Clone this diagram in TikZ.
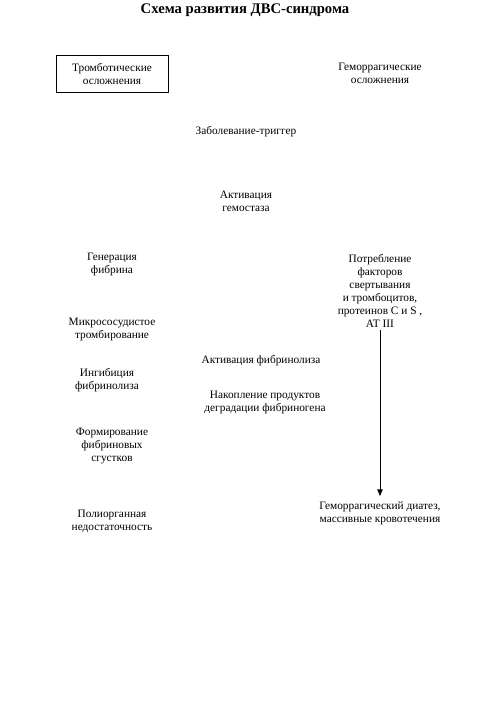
\documentclass[tikz,border=0pt]{standalone}
\usepackage{fontspec}
\setmainfont{Liberation Serif}
\usetikzlibrary{arrows.meta,calc}
\begin{document}
\begin{tikzpicture}[x=0.75pt,y=-0.75pt,
  lbl/.style={align=center,inner sep=0pt,font=\fontsize{8.5}{9.75}\selectfont},
  txt/.style={lbl,yshift=-1.1pt},
  boxed/.style={lbl,draw,line width=0.6pt,minimum width=84pt,minimum height=27.75pt},
  arr/.style={-{Triangle[length=5pt,width=4pt]},line width=0.6pt}]
\useasboundingbox (0,0) rectangle (488,715);
\node[font=\bfseries\fontsize{11}{13}\selectfont,inner sep=0pt] (title) at (245,10) {Схема развития ДВС-синдрома};
\node[boxed] (thromb) at (112,73.5) {Тромботические\\осложнения};
\node[txt] (hemorr) at (380,72) {Геморрагические\\осложнения};
\node[txt] (trigger) at (246,130) {Заболевание-триггер};
\node[txt] (activ) at (246,200) {Активация\\гемостаза};
\node[txt] (gener) at (112,263.5) {Генерация\\фибрина};
\node[txt] (consum) at (380,289.5) {Потребление\\факторов\\свертывания\\и тромбоцитов,\\протеинов C и S ,\\AT III};
\node[txt] (micro) at (112,328.5) {Микрососудистое\\тромбирование};
\node[txt] (inhib) at (107,379) {Ингибиция\\фибринолиза};
\node[txt] (fibrinol) at (261,359) {Активация фибринолиза};
\node[txt] (accum) at (265,401.5) {Накопление продуктов\\деградации фибриногена};
\node[txt] (clots) at (112,445) {Формирование\\фибриновых\\сгустков};
\node[txt] (organ) at (112,519.5) {Полиорганная\\недостаточность};
\node[txt] (diath) at (380,511.5) {Геморрагический диатез,\\массивные кровотечения};
\coordinate (cs) at ($(consum.south)+(0,2)$);
\coordinate (ce) at ($(diath.north)+(0,-5)$);
\draw[arr] (cs) -- (ce);
\end{tikzpicture}
\end{document}
